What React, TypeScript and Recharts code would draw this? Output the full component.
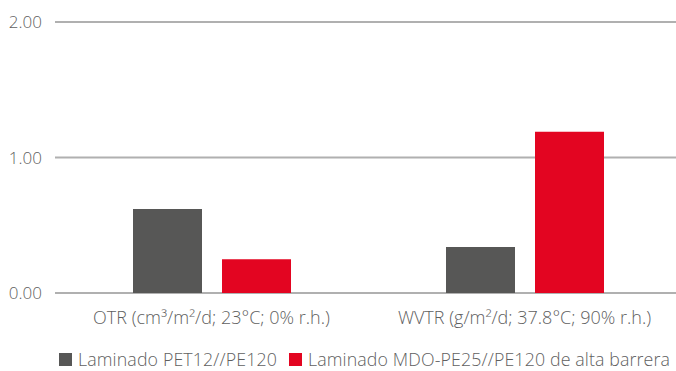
import React from 'react';
import { BarChart, Bar, XAxis, YAxis, CartesianGrid } from 'recharts';

const categories = ['OTR (cm³/m²/d; 23°C; 0% r.h.)', 'WVTR (g/m²/d; 37.8°C; 90% r.h.)'];
const petValues = [0.62, 0.34];
const mdoValues = [0.25, 1.19];
const yTicks = [0, 1, 2];

const seriesNames = ['Laminado PET12//PE120', 'Laminado MDO-PE25//PE120 de alta barrera'];
const GRAY = '#575756';
const RED = '#E30521';
const TEXT = '#5f5f5f';
const FONT = '"Open Sans", sans-serif';

const data = categories.map((name, i) => ({ name, pet: petValues[i], mdo: mdoValues[i] }));

const App: React.FC = () => {
  return (
    <div style={{ position: 'absolute', left: 0, top: 0, width: 676, height: 371, overflow: 'hidden', fontFamily: FONT }}>
      <BarChart
        width={682}
        height={335}
        data={data}
        margin={{ top: 22, right: 1, left: 0, bottom: 0 }}
        barGap={20}
        barSize={69}
      >
        <CartesianGrid vertical={false} stroke="#b0b0b0" strokeWidth={2} />
        <XAxis
          dataKey="name"
          axisLine={false}
          tickLine={false}
          height={42}
          tickSize={0}
          tickMargin={18}
          tick={{ fill: TEXT, fontSize: 18, fontWeight: 300, fontFamily: FONT }}
          interval={0}
        />
        <YAxis
          domain={[0, 2]}
          ticks={yTicks}
          width={55}
          axisLine={false}
          tickLine={false}
          tickSize={0}
          tickMargin={13}
          tickFormatter={(v: number) => v.toFixed(2)}
          tick={{ fill: TEXT, fontSize: 17, fontWeight: 300, fontFamily: FONT }}
        />
        <Bar dataKey="pet" name={seriesNames[0]} fill={GRAY} isAnimationActive={false} />
        <Bar dataKey="mdo" name={seriesNames[1]} fill={RED} isAnimationActive={false} />
      </BarChart>
      <div
        style={{
          position: 'absolute',
          left: 59,
          top: 348,
          display: 'flex',
          alignItems: 'center',
          fontSize: 17.8,
          fontWeight: 300,
          letterSpacing: 0.12,
          color: TEXT,
          whiteSpace: 'nowrap',
          lineHeight: '22px',
        }}
      >
        {seriesNames.map((n, i) => (
          <span key={n} style={{ display: 'flex', alignItems: 'center', marginRight: 12 }}>
            <span style={{ width: 13, height: 13, background: i === 0 ? GRAY : RED, marginRight: 6 }} />
            {n}
          </span>
        ))}
      </div>
    </div>
  );
};

export default App;
